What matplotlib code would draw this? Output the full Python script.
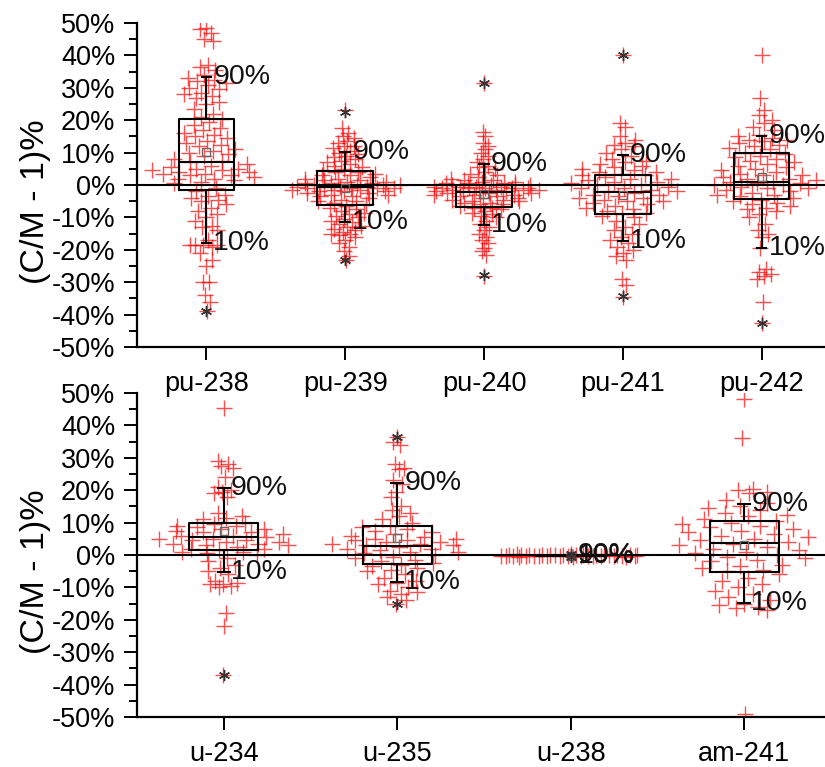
import numpy as np
import matplotlib
matplotlib.use('Agg')
import matplotlib.pyplot as plt
from matplotlib.ticker import MultipleLocator, FuncFormatter

plt.rcParams['font.family'] = ['Liberation Sans', 'DejaVu Sans']

# ---------------- data (values in %) ----------------
top_cats = ['pu-238', 'pu-239', 'pu-240', 'pu-241', 'pu-242']
bot_cats = ['u-234', 'u-235', 'u-238', 'am-241']

pu238 = [48.5, 48, 47, 45, 44.5, 37, 36.5, 35.5, 34, 33, 32.5, 32, 31.5, 31, 30, 29.5, 28.5, 28,
         27.5, 27, 25.5, 25, 23.5, 22, 21, 20.5, 19.5, 18.5, 17.5, 17, 16, 15.5, 15, 14.5, 13.5, 13,
         12.5, 12, 11, 10.5, 10, 9.5, 9, 8, 7.5, 7, 6.5, 6, 5.5, 5, 5, 4.5, 4.5, 4, 4, 3.5, 3.5, 3,
         3, 2.5, 2, 2, 1.5, 1, 0.5, -1, -2, -3, -3.5, -4, -4.5, -5, -6, -7, -8, -9, -10, -11, -12.5,
         -13, -14, -17, -18.5, -18.5, -18.5, -18.5, -19, -21, -23, -25, -30, -30, -34, -36, -39]
pu239 = [23, 17.5, 16, 15, 14.5, 13.5, 13, 12, 12, 11.5, 10.5, 10, 9.5, 9, 8.5, 8, 7.5, 7, 6.5, 6,
         5.5, 5, 4.5, 4, 4, 3.5, 3, 3, 2.5, 2, 2, 1.5, 1.5, 1, 1, 0.5, 0.5, 0.5, 0, 0, 0, 0, -0.5,
         -0.5, -0.5, -0.5, -1, -1, -1, -1, -1.5, -1.5, -1.5, -2, -2, -2, -2.5, -2.5, -3, -3, -3.5,
         -3.5, -4, -4.5, -5, -5, -5.5, -6, -6.5, -7, -7.5, -8, -8.5, -9, -9.5, -10, -10.5, -11,
         -11.5, -12, -12.5, -13, -13.5, -14, -14.5, -15, -15, -15.5, -16, -17, -18, -19, -20.5, -22, -23]
pu240 = [31.5, 16.5, 15, 13, 12, 11, 10, 9, 8, 7, 6, 5.5, 5, 4, 3.5, 3, 2.5, 2, 1.5, 1.5, 1, 1,
         0.5, 0.5, 0.5, 0, 0, 0, 0, -0.5, -0.5, -0.5, -0.5, -1, -1, -1, -1, -1, -1.5, -1.5, -1.5,
         -1.5, -2, -2, -2, -2, -2.5, -2.5, -2.5, -3, -3, -3, -3.5, -3.5, -4, -4, -4.5, -4.5, -5, -5,
         -5.5, -5.5, -6, -6, -6.5, -7, -7, -7.5, -8, -8.5, -9, -9.5, -10, -11, -12, -13, -14, -15,
         -16, -17, -18, -19.5, -20.5, -21.5, -28]
pu241 = [40, 19, 18, 15, 14, 13, 12.5, 12, 11, 10, 9, 8, 7.5, 7, 6.5, 6, 5.5, 5, 4.5, 4, 4, 3.5, 3,
         3, 2.5, 2, 2, 1.5, 1, 1, 0.5, 0, 0, -0.5, -1, -1, -1.5, -2, -2, -2.5, -3, -3, -3.5, -4, -4,
         -4.5, -5, -5, -5.5, -6, -6.5, -7, -7.5, -8, -8.5, -9, -9.5, -10, -11, -12, -13, -14, -15,
         -16, -17, -18, -19, -20, -21, -22, -23, -29, -31, -34.5]
pu242 = [40, 27, 23, 21.5, 20, 19, 18, 17, 15.5, 15, 14.5, 14, 14, 13.5, 13, 12.5, 12, 11.5, 11, 10,
         9.5, 9, 8.5, 8, 7.5, 7, 6.5, 6, 5.5, 5, 4.5, 4, 3.5, 3, 3, 2.5, 2, 2, 1.5, 1, 1, 0.5, 0.5,
         0, 0, -0.5, -1, -1, -1.5, -2, -2.5, -3, -3, -3.5, -4, -4.5, -5, -5.5, -6, -6.5, -7, -7.5,
         -8, -9, -10, -12, -14, -15, -16, -19.5, -26, -27, -27.5, -28, -29, -36, -42.5]
u234 = [45.5, 29, 28, 27.5, 27, 24, 21, 20, 19.5, 19, 18, 13, 12, 11.5, 11, 10, 9.5, 9, 9, 8.5, 8, 8,
        7.5, 7, 7, 6.5, 6, 6, 5.5, 5, 5, 4.5, 4.5, 4, 4, 3.5, 3.5, 3, 3, 2.5, 2, 2, 1.5, 1, 1, 0.5,
        0, -1, -2, -3, -4, -5, -6, -8, -8.5, -9, -9, -9.5, -10, -18, -22, -37]
u235 = [36.5, 35, 34, 28, 27, 26.5, 23, 22, 19.5, 18, 15, 14, 13, 12, 11, 10, 9, 8.5, 8, 7.5, 7, 6.5,
        6, 5.5, 5, 5, 4.5, 4.5, 4, 4, 3.5, 3.5, 3, 3, 2.5, 2, 2, 1.5, 1, 1, 0.5, 0, -0.5, -1, -1.5,
        -2, -2.5, -3, -3.5, -4, -4.5, -5, -6, -7, -8, -8.5, -9, -10, -11, -11.5, -12, -13, -14, -15]
u238 = [0.3, 0.2, 0.2, 0.15, 0.1, 0.1, 0.05, 0.0, 0.0, 0.0, -0.05, -0.05, -0.1, -0.1, -0.1, -0.15,
        -0.15, -0.2, -0.2, -0.2, -0.2, -0.25, -0.25, -0.3, -0.3, -0.3, -0.35, -0.35, -0.4, -0.4,
        -0.4, -0.45, -0.45, -0.5, -0.5, -0.55]
am241 = [48, 36, 20.5, 20, 19.5, 19, 17, 16, 15, 14.5, 14, 13, 12.5, 12, 11, 10.5, 10, 9.5, 9, 8.5,
         8, 7.5, 7, 6.5, 6, 5.5, 5, 4.5, 4, 3.5, 3, 2.5, 2, 1.5, 1, 0.5, 0, -0.5, -1, -1.5, -2, -3,
         -3.5, -4, -4.5, -5, -6, -7, -8, -9, -10, -11, -12, -13, -14, -15, -15.5, -16, -16.5, -17, -49]

# box statistics
top_p10 = [-18, -11.3, -12.3, -17.3, -19.5]
top_q1 = [-1.5, -6.2, -6.7, -8.8, -4.4]
top_med = [7.2, -0.5, -2.1, -2.1, 1.0]
top_q3 = [20.3, 4.4, 0.0, 3.1, 9.8]
top_p90 = [33.4, 10.3, 6.5, 9.3, 15.2]
top_mean = [10.3, -1.0, -2.8, -3.1, 2.4]
top_min = [-38.8, -23.2, -27.8, -34.2, -42.7]
top_max = [np.nan, 22.6, 31.4, 40.1, np.nan]

bot_p10 = [-5.3, -8.2, -0.4, -14.9]
bot_q1 = [1.5, -2.8, -0.35, -5.1]
bot_med = [5.6, 2.8, -0.2, 3.6]
bot_q3 = [10.0, 8.9, 0.0, 10.5]
bot_p90 = [20.6, 22.1, 0.1, 15.6]
bot_mean = [7.5, 5.1, -0.2, 3.1]
bot_min = [-37.0, -15.1, -0.5, np.nan]
bot_max = [np.nan, 36.5, 0.3, np.nan]

top_series = [pu238, pu239, pu240, pu241, pu242]
bot_series = [u234, u235, u238, am241]

yticks = list(range(-50, 51, 10))

# ---------------- layout ----------------
W, H = 825, 767
fig = plt.figure(figsize=(W / 100, H / 100), dpi=100)
ax_left = 137 / W
ax_w = (831 - 137) / W
ax_h = 324 / H
ax_top = fig.add_axes([ax_left, 1 - 347 / H, ax_w, ax_h])
ax_bot = fig.add_axes([ax_left, 1 - 717 / H, ax_w, ax_h])

GOLD = 0.6180339887


def sina_offsets(vals, halfwidth=0.41, bw=2.5, power=1.3):
    """Density-scaled horizontal spread (sina-style), deterministic."""
    vals = np.asarray(vals, float)
    d = np.exp(-0.5 * ((vals[:, None] - vals[None, :]) / bw) ** 2).sum(axis=1)
    d = (d / d.max()) ** power
    order = np.argsort(-vals, kind='stable')
    u = np.empty(len(vals))
    u[order] = ((np.arange(len(vals)) * GOLD + 0.5) % 1.0) * 2 - 1
    return halfwidth * d * u


def draw_panel(ax, cats, series, p10, q1, med, q3, p90, mean, vmin, vmax):
    xs = np.arange(1, len(cats) + 1)
    for x, vals in zip(xs, series):
        off = sina_offsets(vals)
        ax.plot(x + off, vals, linestyle='none', marker='+', markersize=11,
                markeredgewidth=1.0, color=(1, 0, 0, 0.7), zorder=2)
    stats = []
    for i in range(len(cats)):
        stats.append(dict(whislo=p10[i], q1=q1[i], med=med[i], q3=q3[i], whishi=p90[i],
                          mean=mean[i], fliers=[]))
    lw = 1.5
    ax.bxp(stats, positions=xs, widths=0.4, capwidths=0.07, showmeans=True,
           boxprops=dict(color='black', linewidth=lw),
           medianprops=dict(color='black', linewidth=lw),
           whiskerprops=dict(color='black', linewidth=lw),
           capprops=dict(color='black', linewidth=lw),
           meanprops=dict(marker='s', markersize=5.5, markerfacecolor='none',
                          markeredgecolor='#666666', markeredgewidth=1.0),
           manage_ticks=False, zorder=4)
    ax.plot(xs, vmin, linestyle='none', marker=(6, 2, 0), markersize=8, color='#333333',
            markeredgewidth=1.0, zorder=5)
    ax.plot(xs, vmax, linestyle='none', marker=(6, 2, 0), markersize=8, color='#333333',
            markeredgewidth=1.0, zorder=5)
    for x, a, b in zip(xs, p90, p10):
        ax.annotate('90%', (x, a), xytext=(5, 0), textcoords='offset points',
                    ha='left', va='center', fontsize=20.5, color='#111111', zorder=6)
        ax.annotate('10%', (x, b), xytext=(5, 0), textcoords='offset points',
                    ha='left', va='center', fontsize=20.5, color='#111111', zorder=6)
    ax.axhline(0, color='black', linewidth=1.5, zorder=3)
    ax.set_xlim(0.5, len(cats) + 0.5)
    ax.set_ylim(-50, 50)
    ax.set_xticks(xs)
    ax.set_xticklabels(cats)
    ax.set_yticks(yticks)
    ax.yaxis.set_major_formatter(FuncFormatter(lambda v, p: '%d%%' % int(round(v))))
    ax.yaxis.set_minor_locator(MultipleLocator(5))
    for s in ['top', 'right']:
        ax.spines[s].set_visible(False)
    for s in ['left', 'bottom']:
        ax.spines[s].set_linewidth(1.6)
    ax.tick_params(axis='both', which='major', direction='out', length=9.5, width=1.4,
                   labelsize=19.5, pad=6, colors='black')
    ax.tick_params(axis='y', which='minor', direction='out', length=5.5, width=1.4)
    ax.tick_params(axis='x', which='major', pad=8)
    ax.set_ylabel('(C/M - 1)%', fontsize=24.5)
    ax.yaxis.set_label_coords(-0.124, 0.45)
    ax.patch.set_alpha(0)


draw_panel(ax_top, top_cats, top_series, top_p10, top_q1, top_med, top_q3, top_p90,
           top_mean, top_min, top_max)
draw_panel(ax_bot, bot_cats, bot_series, bot_p10, bot_q1, bot_med, bot_q3, bot_p90,
           bot_mean, bot_min, bot_max)

fig.savefig('out.png', dpi=100)
